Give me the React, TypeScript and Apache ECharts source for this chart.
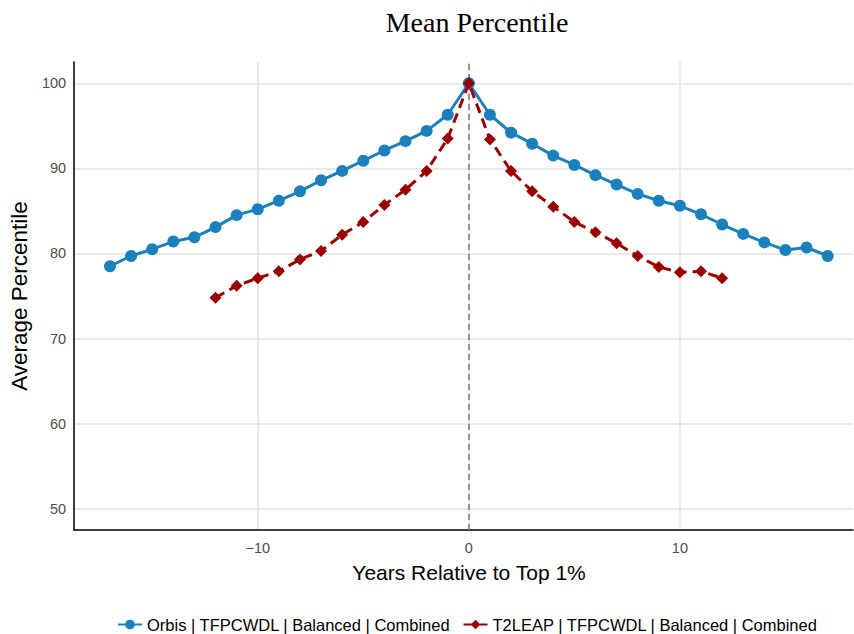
import React, { useEffect, useRef } from "react";
import * as echarts from "echarts";

const xOrbis = [-17,-16,-15,-14,-13,-12,-11,-10,-9,-8,-7,-6,-5,-4,-3,-2,-1,0,1,2,3,4,5,6,7,8,9,10,11,12,13,14,15,16,17];
const orbisValues = [78.5,79.7,80.5,81.4,81.9,83.1,84.5,85.2,86.2,87.3,88.6,89.7,90.9,92.1,93.2,94.4,96.3,100,96.3,94.2,92.9,91.5,90.4,89.2,88.1,87.0,86.2,85.6,84.6,83.4,82.3,81.3,80.4,80.7,79.7];
const xT2 = [-12,-11,-10,-9,-8,-7,-6,-5,-4,-3,-2,-1,0,1,2,3,4,5,6,7,8,9,10,11,12];
const t2Values = [74.8,76.2,77.1,77.9,79.3,80.3,82.2,83.7,85.7,87.5,89.7,93.5,100,93.4,89.7,87.3,85.5,83.7,82.5,81.2,79.7,78.4,77.8,77.9,77.1];
const xTicks = [-10, 0, 10];
const yTicks = [50, 60, 70, 80, 90, 100];
const seriesNames = ["Orbis | TFPCWDL | Balanced | Combined", "T2LEAP | TFPCWDL | Balanced | Combined"];

export default function App() {
  const ref = useRef<HTMLDivElement>(null);
  useEffect(() => {
    if (!ref.current) return;
    const chart = echarts.init(ref.current, null, { renderer: "svg" });
    const font = "Liberation Sans";
    chart.setOption({
      animation: false,
      backgroundColor: "#ffffff",
      title: {
        text: "Mean Percentile",
        left: 472,
        textAlign: "center",
        top: 3,
        textStyle: { fontFamily: "Liberation Serif", fontWeight: "normal", fontSize: 28, color: "#000" },
      },
      grid: { left: 71, top: 62, width: 782, height: 468, containLabel: false },
      legend: {
        bottom: -4,
        left: 112,
        itemWidth: 24,
        itemHeight: 12,
        itemGap: 12,
        textStyle: { fontFamily: font, fontSize: 16.5, color: "#000" },
        data: seriesNames,
      },
      xAxis: {
        type: "value",
        min: -18.7,
        max: 18.2,
        name: "Years Relative to Top 1%",
        nameLocation: "middle",
        nameGap: 32,
        nameTextStyle: { fontFamily: font, fontSize: 21, color: "#000", padding: [0, 0, 0, 11] },
        axisLine: { show: true, onZero: false, lineStyle: { color: "#000", width: 1.5 } },
        axisTick: { show: false, customValues: xTicks },
        axisLabel: { customValues: xTicks, fontFamily: font, fontSize: 14.5, color: "#4d4d4d", margin: 10,
          formatter: (v: number) => (v < 0 ? "\u2212" + Math.abs(v) : String(v)) },
        splitLine: { show: true, lineStyle: { color: "#e3e3e3", width: 1.5 } },
      },
      yAxis: {
        type: "value",
        min: 47.5,
        max: 102.5,
        name: "Average Percentile",
        nameLocation: "middle",
        nameGap: 40,
        nameTextStyle: { fontFamily: font, fontSize: 22.5, color: "#000" },
        axisLine: { show: true, onZero: false, lineStyle: { color: "#000", width: 1.5 } },
        axisTick: { show: false, customValues: yTicks },
        axisLabel: { customValues: yTicks, fontFamily: font, fontSize: 14.5, color: "#4d4d4d", margin: 8 },
        splitLine: { show: true, lineStyle: { color: "#e3e3e3", width: 1.5 } },
      },
      series: [
        {
          name: seriesNames[0],
          type: "line",
          data: xOrbis.map((x, i) => [x, orbisValues[i]]),
          color: "#1b80bb",
          symbol: "circle",
          symbolSize: 12,
          lineStyle: { width: 3 },
          z: 3,
          markLine: {
            silent: true,
            symbol: "none",
            label: { show: false },
            lineStyle: { color: "#777777", type: [6, 4], width: 1.5 },
            data: [{ xAxis: 0 }],
            z: 1,
          },
        },
        {
          name: seriesNames[1],
          type: "line",
          data: xT2.map((x, i) => [x, t2Values[i]]),
          color: "#990000",
          symbol: "diamond",
          symbolSize: 12,
          lineStyle: { width: 3, type: [10, 6] },
          z: 4,
        },
      ],
    });
    return () => chart.dispose();
  }, []);
  return <div ref={ref} style={{ width: 854, height: 634, position: "absolute", left: 0, top: 0 }} />;
}
